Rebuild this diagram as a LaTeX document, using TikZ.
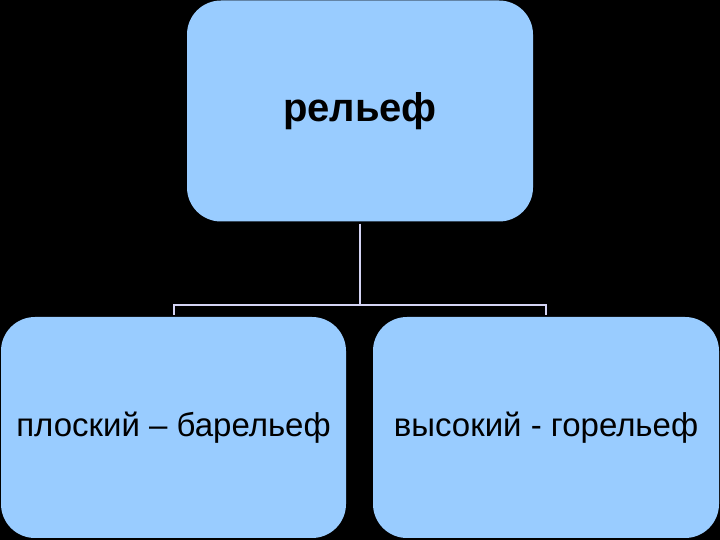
\documentclass[tikz,border=0pt]{standalone}
\usepackage{fontspec}
\setmainfont{Liberation Sans}
\definecolor{boxblue}{HTML}{99CCFF}
\definecolor{linecol}{HTML}{D4D4F4}
\tikzset{
  blbox/.style={fill=boxblue, draw=none, rounded corners=34pt, minimum height=221pt, inner sep=0pt, text=black},
  conn/.style={draw=linecol, line width=2pt}
}
\begin{document}
\begin{tikzpicture}[x=1pt,y=1pt]
\fill[black] (0,0) rectangle (720,540);
\useasboundingbox (0,0) rectangle (720,540);
\node[blbox, minimum width=346pt, font=\fontsize{40}{48}\selectfont\bfseries] (top) at (360,429) {рельеф};
\node[blbox, minimum width=345pt, font=\fontsize{33}{40}\selectfont] (left) at (173.5,112.5) {\raisebox{-3pt}{плоский – барельеф}};
\node[blbox, minimum width=346pt, font=\fontsize{33}{40}\selectfont] (right) at (546,112.5) {\raisebox{-3pt}{высокий - горельеф}};
\draw[conn] ([yshift=-2pt]top.south) -- (360,235) coordinate (j);
\draw[conn] ([yshift=2pt]left.north) |- (j);
\draw[conn] ([yshift=2pt]right.north) |- (j);
\end{tikzpicture}
\end{document}
